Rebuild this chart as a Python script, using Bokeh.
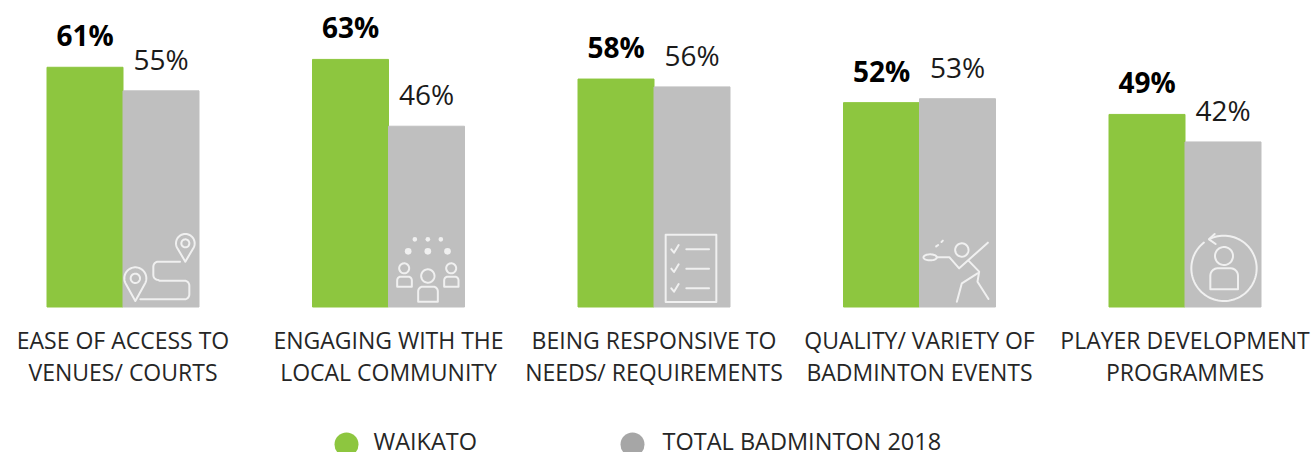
import numpy as np
from bokeh.embed import file_html
from bokeh.models import ColumnDataSource, Range1d
from bokeh.plotting import figure
from bokeh.resources import INLINE
from bokeh.core.properties import value

categories = [
    ("EASE OF ACCESS TO", "VENUES/ COURTS"),
    ("ENGAGING WITH THE", "LOCAL COMMUNITY"),
    ("BEING RESPONSIVE TO", "NEEDS/ REQUIREMENTS"),
    ("QUALITY/ VARIETY OF", "BADMINTON EVENTS"),
    ("PLAYER DEVELOPMENT", "PROGRAMMES"),
]
waikato = [61, 63, 58, 52, 49]
total_2018 = [55, 46, 56, 53, 42]
series_names = ["WAIKATO", "TOTAL BADMINTON 2018"]

GREEN = "#8DC63F"
GREY = "#BFBFBF"
LEGEND_GREY = "#A6A6A6"
ICON = "#F0F0F0"
FONT = "Open Sans"

W, H = 1313, 452
BASE_PX = 306.5
PX_PER_PCT = 3.93
STEP_PX = 265.5
FIRST_PX = 122.5
BAR_PX = 76.0


def xdata(px):
    return (np.asarray(px, dtype=float) - FIRST_PX) / STEP_PX


def ydata(py):
    return (BASE_PX - np.asarray(py, dtype=float)) / PX_PER_PCT


p = figure(
    width=W, height=H, output_backend="svg", toolbar_location=None,
    x_range=Range1d(float(xdata(0)), float(xdata(W))),
    y_range=Range1d(float(ydata(H)), float(ydata(0))),
    min_border=0, outline_line_color=None,
)
p.axis.visible = False
p.grid.visible = False
p.background_fill_color = "white"
p.border_fill_color = "white"

idx = np.arange(len(categories))
half = BAR_PX / STEP_PX / 2
src = ColumnDataSource(dict(
    xg=idx - half, xt=idx + half, g=waikato, t=total_2018,
    gl=[f"{v}%" for v in waikato], tl=[f"{v}%" for v in total_2018],
))
p.vbar(x="xg", top="g", bottom=0, width=2 * half, color=GREEN, source=src)
p.vbar(x="xt", top="t", bottom=0, width=2 * half, color=GREY, source=src)

p.text(x="xg", y="g", text="gl", source=src, text_align="center", text_baseline="middle",
       y_offset=-32, text_font=value(FONT), text_font_size="28px", text_font_style="bold",
       text_color="#000000")
p.text(x="xt", y="t", text="tl", source=src, text_align="center", text_baseline="middle",
       y_offset=-32, text_font=value(FONT), text_font_size="28px", text_color="#1a1a1a")

for row, off in enumerate((32.5, 65)):
    p.text(x=list(idx), y=[0] * len(idx), text=[c[row] for c in categories],
           text_align="center", text_baseline="middle", y_offset=off,
           text_font=value(FONT), text_font_size="23px", text_color="#262626")


# Icon geometry is in thirds of a pixel, measured from a grey bar's bottom-left corner.
def arc(cx, cy, r, a0=0, a1=360, ry=None, n=48):
    a = np.radians(np.linspace(a0, a1, n))
    return list(zip(cx + r * np.cos(a), cy - (ry or r) * np.sin(a)))


def corner(cx, cy, r, a0, a1):
    return arc(cx, cy, r, a0, a1, n=8)


def pin(cx, cy, r, tip_y, hole):
    body = arc(cx, cy, r, -35, 215) + [(cx, tip_y)]
    body.append(body[0])
    return [body, arc(cx, cy, hole)]


def person(cx, head_y, head_r, x0, x1, top, bottom, rad):
    outline = ([(x0, bottom)] + corner(x0 + rad, top + rad, rad, 180, 90)
               + corner(x1 - rad, top + rad, rad, 90, 0) + [(x1, bottom), (x0, bottom)])
    return [arc(cx, head_y, head_r), outline]


route = ([(52, -23), (184, -23)] + corner(184, -38, 15, -90, 0) + corner(184, -64, 15, 0, 90)
         + [(109, -79)] + corner(106, -96, 15, -90, -180) + corner(106, -121, 15, 180, 90)
         + [(171, -136)])

icons = {
    0: pin(37, -86, 33, -18, 14) + pin(187, -191, 28, -136, 12) + [route],
    1: (person(118, -93, 20, 89, 148, -61, -16, 14)
        + person(47, -116, 15, 26, 70, -91, -61, 11)
        + person(188, -116, 15, 167, 210, -91, -61, 11)),
    2: [[(35, -217), (187, -217), (187, -15), (35, -15), (35, -217)]]
       + [s for y in (-173, -115, -56)
          for s in ([(52, y), (60, y + 10), (74, y - 13)], [(97, y), (165, y)])],
    3: [arc(127, -171, 20), arc(32, -149, 20, ry=9),
        [(52, -149), (90, -149), (119, -116), (205, -193)],
        [(147, -139), (179, -106), (174, -76), (207, -24)],
        [(174, -101), (127, -71), (112, -16)],
        [(50, -182), (56, -186)], [(66, -195), (70, -199)]],
    4: [arc(117, -116, 98, 116, -232, n=96), [(89, -219), (72, -203), (92, -189)]]
       + person(117, -153, 27, 76, 159, -116, -53, 22),
}
icon_dots = {1: [(79, -203, 7), (118, -203, 7), (157, -203, 7),
                 (59, -167, 10), (118, -167, 10), (177, -167, 10)]}

for group, strokes in icons.items():
    left_px = FIRST_PX + group * STEP_PX
    xs = [list(xdata(left_px + np.array([q[0] for q in s]) / 3)) for s in strokes]
    ys = [list(ydata(BASE_PX + np.array([q[1] for q in s]) / 3)) for s in strokes]
    p.multi_line(xs, ys, line_color=ICON, line_width=2, line_join="round", line_cap="round")

for group, dots in icon_dots.items():
    left_px = FIRST_PX + group * STEP_PX
    p.scatter(list(xdata(left_px + np.array([d[0] for d in dots]) / 3)),
              list(ydata(BASE_PX + np.array([d[1] for d in dots]) / 3)),
              size=[2 * d[2] / 3 for d in dots], color=ICON, line_color=None)

# Legend row along the bottom edge
legend_dots_px = [346, 632]
legend_text_px = [373, 662]
p.scatter(list(xdata(legend_dots_px)), list(ydata([444, 444])), size=24,
          color=[GREEN, LEGEND_GREY], line_color=None)
p.text(list(xdata(legend_text_px)), list(ydata([440, 440])), text=series_names,
       text_align="left", text_baseline="middle", text_font=value(FONT),
       text_font_size="23.5px", text_color="#262626")

open("out.html", "w").write(file_html(p, INLINE))
